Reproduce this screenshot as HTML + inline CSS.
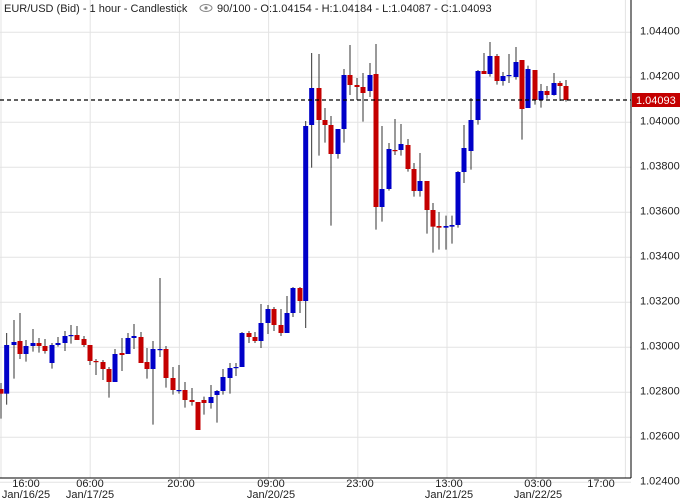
<!DOCTYPE html>
<html><head><meta charset="utf-8"><style>
html,body{margin:0;padding:0;background:#fff;width:686px;height:503px;overflow:hidden}
svg{display:block;font-family:"Liberation Sans",sans-serif}
</style></head><body>
<svg id="s" width="686" height="503" xmlns="http://www.w3.org/2000/svg"></svg>
<script>
const s=document.getElementById('s');let h='';
for(let k=0;k<11;k++){const y=32.3+45*k;h+=`<line x1="0" x2="631" y1="${y}" y2="${y}" stroke="#e3e3e3" stroke-width="1"/>`;
h+=`<text x="640" y="${y+2}" font-size="11" fill="#222">${(1.044-0.002*k).toFixed(5)}</text>`;}
for(let k=0;k<8;k++){const x=1+89.2*k;h+=`<line x1="${x}" x2="${x}" y1="0" y2="478" stroke="#e3e3e3" stroke-width="1"/>`;}
const z1=[[3,387,401,369,476,'R'],[20,255,401,219,434,'B'],[42,246,255,180,356,'B'],[60,243,282,159,297,'R'],[78,258,282,240,305,'B'],[99,249,258,207,275,'B'],[117,249,258,234,278,'R'],[135,258,273,237,281,'R'],[156,255,309,249,326,'B'],[174,249,255,231,260,'B'],[195,228,249,213,273,'B'],[213,225,228,195,251,'B'],[231,225,240,198,240,'R'],[252,237,255,228,261,'R'],[270,255,303,255,315,'R'],[288,303,306,297,345,'R'],[309,306,327,300,360,'R'],[327,327,366,321,413,'R'],[345,282,366,267,366,'B'],[366,279,285,234,333,'R'],[384,234,282,219,282,'B'],[402,228,234,192,267,'B'],[423,231,309,216,309,'R'],[441,306,327,264,356,'R'],[459,267,327,243,494,'B'],[480,267,270,54,291,'B'],[498,267,354,258,383,'R'],[519,354,390,321,404,'R'],[537,390,393,315,401,'B'],[555,390,420,366,443,'R'],[576,420,426,384,437,'R'],[594,426,510,426,510,'R'],[612,420,429,410,464,'R'],[633,411,429,375,446,'B'],[651,393,405,390,488,'B'],[669,351,393,327,404,'B'],[690,324,354,309,401,'B'],[708,321,324,309,348,'B'],[726,219,321,216,321,'B'],[747,219,231,213,249,'R'],[765,231,243,216,249,'R'],[783,189,243,132,264,'B'],[804,147,189,135,222,'B'],[822,147,195,141,213,'R'],[843,195,219,147,228,'R'],[861,159,219,108,219,'B'],[879,84,159,81,171,'B'],[900,84,123,81,159,'R']];
const z2=[[65,174,285,69,413,'B'],[87,174,270,72,377,'R'],[105,270,285,234,338,'R'],[123,285,372,258,587,'R'],[144,297,372,297,386,'B'],[162,135,297,117,338,'B'],[180,135,165,45,195,'R'],[201,165,171,144,210,'R'],[219,171,189,129,275,'R'],[240,135,183,99,201,'B'],[258,132,531,42,599,'R'],[276,477,531,288,575,'B'],[297,357,477,339,482,'B'],[315,360,362,267,375,'R'],[333,342,360,282,377,'B'],[354,345,417,327,425,'R'],[372,417,483,399,500,'R'],[390,453,483,369,500,'B'],[411,453,540,453,611,'R'],[429,540,590,519,668,'R'],[447,588,593,546,659,'R'],[468,588,593,557,659,'B'],[486,585,590,557,641,'B'],[504,426,585,423,593,'B'],[522,354,426,285,459,'B'],[543,270,363,204,419,'B'],[564,123,270,120,284,'B'],[582,123,132,69,132,'R'],[600,78,132,36,140,'B'],[621,78,153,72,164,'R'],[639,138,153,126,167,'B'],[657,135,137,72,159,'B'],[678,96,141,51,149,'B'],[696,90,237,90,329,'R'],[714,117,234,107,234,'B'],[735,120,210,120,224,'R'],[753,183,210,162,233,'B'],[771,183,195,168,206,'R'],[792,159,195,129,197,'B'],[810,159,168,153,213,'R'],[828,168,210,150,215,'R']];
const C=[];
z1.forEach(c=>C.push([c[0]/3,c[1]/3+260,c[2]/3+260,c[3]/3+260,c[4]/3+260,c[5]]));
C.push([305.7,126,301,121,328,'B']);
z2.forEach(c=>C.push([c[0]/3+290,c[1]/3+30,c[2]/3+30,c[3]/3+30,c[4]/3+30,c[5]]));
C.forEach(c=>{const col=c[5]=='R'?'#c40000':'#0000c8';
h+=`<line x1="${c[0]}" x2="${c[0]}" y1="${c[3]}" y2="${c[4]}" stroke="#333" stroke-width="1"/>`;
h+=`<rect x="${c[0]-2.5}" y="${c[1]}" width="5" height="${Math.max(1.2,c[2]-c[1])}" fill="${col}"/>`;});
h+=`<line x1="0" x2="631" y1="100" y2="100" stroke="#000" stroke-width="1.2" stroke-dasharray="4,3"/>`;
h+=`<rect x="632" y="93" width="48" height="14" fill="#c40000"/><text x="636" y="104" font-size="11" fill="#fff">1.04093</text>`;
h+=`<line x1="631" x2="631" y1="0" y2="478" stroke="#000"/><line x1="0" x2="631" y1="478" y2="478" stroke="#000"/>`;
const L=[[26,'16:00','Jan/16/25'],[90,'06:00','Jan/17/25'],[181,'20:00',''],[271,'09:00','Jan/20/25'],[360,'23:00',''],[449,'13:00','Jan/21/25'],[538,'03:00','Jan/22/25'],[601,'17:00','']];
L.forEach(l=>{h+=`<text x="${l[0]}" y="487" font-size="11" text-anchor="middle" fill="#222">${l[1]}</text>`;if(l[2])h+=`<text x="${l[0]}" y="498" font-size="11" text-anchor="middle" fill="#222">${l[2]}</text>`;});
h+=`<text x="4" y="12" font-size="11" fill="#222">EUR/USD (Bid) - 1 hour - Candlestick</text>`;
h+=`<ellipse cx="206" cy="8" rx="6" ry="3.5" fill="none" stroke="#888"/><circle cx="206" cy="8" r="1.6" fill="#888"/>`;
h+=`<text x="217" y="12" font-size="11" fill="#222">90/100 - O:1.04154 - H:1.04184 - L:1.04087 - C:1.04093</text>`;
s.innerHTML=h;
</script>
</body></html>
